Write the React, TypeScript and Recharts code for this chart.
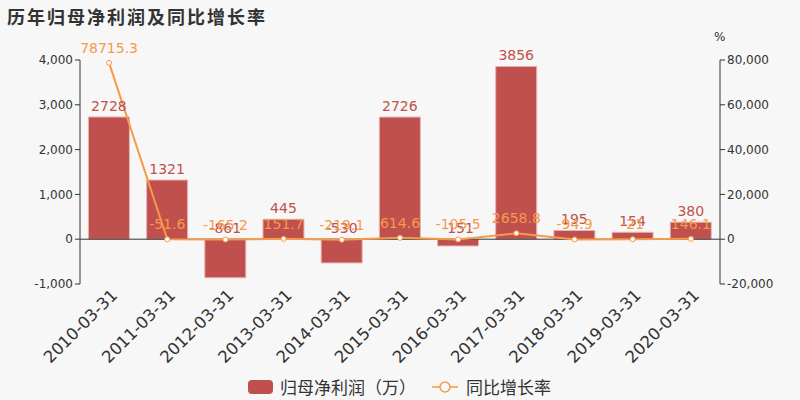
import {
  ComposedChart,
  Bar,
  Line,
  XAxis,
  YAxis,
  LabelList,
  ReferenceLine,
} from 'recharts'

const dates = [
  '2010-03-31',
  '2011-03-31',
  '2012-03-31',
  '2013-03-31',
  '2014-03-31',
  '2015-03-31',
  '2016-03-31',
  '2017-03-31',
  '2018-03-31',
  '2019-03-31',
  '2020-03-31',
]
const netProfit = [2728, 1321, -861, 445, -530, 2726, -151, 3856, 195, 154, 380]
const growthRate = [78715.3, -51.6, -165.2, 151.7, -219.1, 614.6, -105.5, 2658.8, -94.9, -21, 146.1]
const leftTicks = [-1000, 0, 1000, 2000, 3000, 4000]
const rightTicks = [-20000, 0, 20000, 40000, 60000, 80000]

const BAR_COLOR = '#c0504d'
const LINE_COLOR = '#f59a4a'
const FONT = '"DejaVu Sans", "Noto Sans CJK SC", sans-serif'

const fmt = (v: number) => v.toLocaleString('en-US')

function DateTick(props: any) {
  const { x, y, payload } = props
  return (
    <g transform={`translate(${x + 5},${y})`}>
      <text
        transform="rotate(-45)"
        textAnchor="end"
        dy={6}
        fill="#333"
        fontSize={16.5}
        fontFamily={FONT}
      >
        {payload.value}
      </text>
    </g>
  )
}

function LineDot(props: any) {
  const { cx, cy } = props
  return <circle cx={cx} cy={cy} r={2.5} fill="#fff" stroke={LINE_COLOR} strokeWidth={1} />
}

// bar label always sits above the upper edge of the rect (echarts 'top')
function BarLabel(props: any) {
  const { x, y, width, height, value } = props
  const top = Math.min(y, y + height)
  return (
    <text
      x={x + width / 2}
      y={top - 6}
      textAnchor="middle"
      fill={BAR_COLOR}
      fontSize={14}
      fontFamily={FONT}
    >
      {value}
    </text>
  )
}

export default function App() {
  const data = dates.map((d, i) => ({
    date: d,
    profit: netProfit[i],
    growth: growthRate[i],
  }))

  return (
    <div
      style={{
        position: 'absolute',
        left: 0,
        top: 0,
        width: 800,
        height: 400,
        background: '#f7f7f7',
        fontFamily: FONT,
      }}
    >
      <div
        style={{
          position: 'absolute',
          left: 7,
          top: 3,
          fontSize: 18,
          fontWeight: 'bold',
          color: '#333',
          letterSpacing: 2,
        }}
      >
        历年归母净利润及同比增长率
      </div>
      <div style={{ position: 'absolute', left: 714, top: 30, fontSize: 12, color: '#333' }}>%</div>

      <ComposedChart
        width={800}
        height={400}
        data={data}
        margin={{ top: 60, right: 0, bottom: 0, left: 0 }}
        barCategoryGap="14.5%"
        style={{ position: 'absolute', left: 0, top: 0 }}
      >
        <XAxis
          dataKey="date"
          axisLine={false}
          tickLine={false}
          tick={<DateTick />}
          interval={0}
          height={116}
        />
        <YAxis
          yAxisId="left"
          domain={[-1000, 4000]}
          ticks={leftTicks}
          tickFormatter={fmt}
          width={80}
          stroke="#333"
          tick={{ fill: '#333', fontSize: 12, fontFamily: FONT }}
          tickSize={5}
        />
        <YAxis
          yAxisId="right"
          orientation="right"
          domain={[-20000, 80000]}
          ticks={rightTicks}
          tickFormatter={fmt}
          width={80}
          stroke="#333"
          tick={{ fill: '#333', fontSize: 12, fontFamily: FONT }}
          tickSize={5}
        />
        <ReferenceLine yAxisId="left" y={0} stroke="#333" />
        <Bar
          yAxisId="left"
          dataKey="profit"
          fill={BAR_COLOR}
          stroke="#e8b4b2"
          strokeWidth={1}
          isAnimationActive={false}
        >
          <LabelList dataKey="profit" content={<BarLabel />} />
        </Bar>
        <Line
          yAxisId="right"
          dataKey="growth"
          stroke={LINE_COLOR}
          strokeWidth={2}
          dot={<LineDot />}
          isAnimationActive={false}
        >
          <LabelList
            dataKey="growth"
            position="top"
            offset={10}
            fill={LINE_COLOR}
            fontSize={14}
            fontFamily={FONT}
          />
        </Line>
      </ComposedChart>

      <div
        style={{
          position: 'absolute',
          left: 248,
          top: 374,
          display: 'flex',
          alignItems: 'center',
          fontSize: 17,
          color: '#333',
        }}
      >
        <span
          style={{
            display: 'inline-block',
            width: 25,
            height: 14,
            borderRadius: 4,
            background: BAR_COLOR,
            marginRight: 7,
          }}
        />
        <span>归母净利润（万）</span>
        <svg width={26} height={14} style={{ marginLeft: 16, marginRight: 8 }}>
          <line x1={0} y1={7} x2={26} y2={7} stroke={LINE_COLOR} strokeWidth={1.5} />
          <circle cx={13} cy={7} r={5} fill="#f7f7f7" stroke={LINE_COLOR} strokeWidth={1.5} />
        </svg>
        <span>同比增长率</span>
      </div>
    </div>
  )
}
